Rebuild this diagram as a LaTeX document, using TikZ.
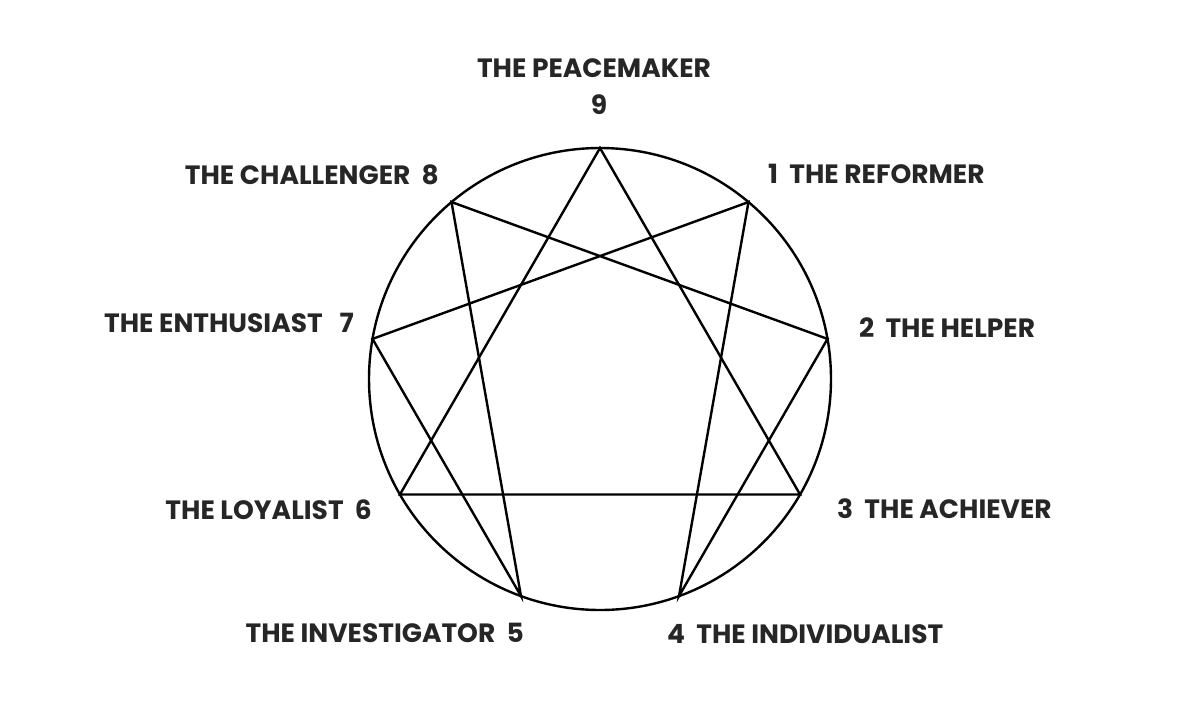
\documentclass[tikz,border=0pt]{standalone}
\usepackage{fontspec}
\setmainfont{Poppins}
\usetikzlibrary{calc}
\begin{document}
\begin{tikzpicture}[x=1pt,y=-1pt,line width=2.4pt,
  lab/.style={font=\bfseries\fontsize{26.5}{28}\selectfont,inner sep=0pt,text=black!85}]
\useasboundingbox[fill=white] (0,0) rectangle (1200,713);
\coordinate (c) at (600,379);
\draw (c) circle[radius=231];
\foreach \n/\a in {9/90,1/50,2/10,3/-30,4/-70,5/-110,6/-150,7/170,8/130}
  \coordinate (p\n) at ($(c)+({231*cos(\a)},{-231*sin(\a)})$);
\draw[line join=miter] (p9) -- (p3) -- (p6) -- cycle;
\draw (p1) -- (p4) -- (p2) -- (p8) -- (p5) -- (p7) -- cycle;
\node[lab] (t9) at (594,68) {THE PEACEMAKER};
\node[lab] (n9) at (599,105) {9};
\node[lab,anchor=east] (t8) at (440,175) {THE CHALLENGER\ \ 8};
\node[lab,anchor=west] (t1) at (767,174) {1\ \ THE REFORMER};
\node[lab,anchor=east] (t7) at (355,323) {THE ENTHUSIAST\ \ \ 7};
\node[lab,anchor=west] (t2) at (858,328) {2\ \ THE HELPER};
\node[lab,anchor=east] (t6) at (373,510) {THE LOYALIST\ \ 6};
\node[lab,anchor=west] (t3) at (836,509) {3\ \ THE ACHIEVER};
\node[lab,anchor=east] (t5) at (525,633) {THE INVESTIGATOR\ \ 5};
\node[lab,anchor=west] (t4) at (666,634) {4\ \ THE INDIVIDUALIST};
\end{tikzpicture}
\end{document}
